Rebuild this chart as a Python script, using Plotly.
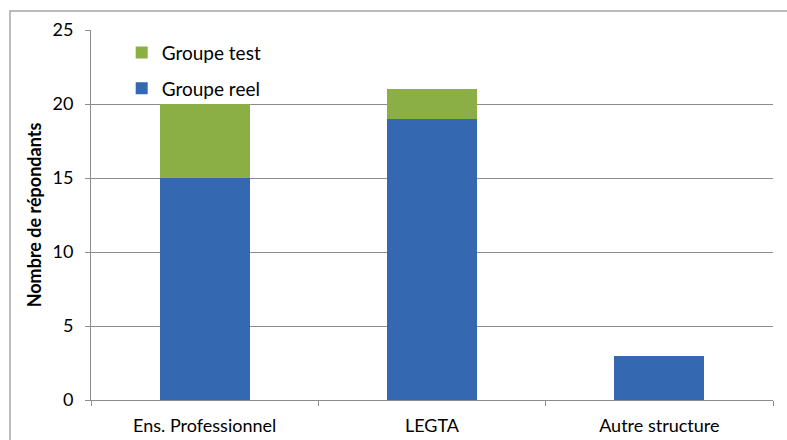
import plotly.graph_objects as go

categories = ["Ens. Professionnel", "LEGTA", "Autre structure"]
groupe_reel = [15, 19, 3]
groupe_test = [5, 2, 0]
y_ticks = [0, 5, 10, 15, 20, 25]

FONT = "Lato, 'Open Sans', sans-serif"
BLUE = "#3468B1"
GREEN = "#8BAF45"
GRID = "#8c8c8c"

fig = go.Figure()
fig.add_trace(go.Bar(
    name="Groupe reel", x=categories, y=groupe_reel,
    legendgroup="reel", legendrank=2,
    marker=dict(color=BLUE, line=dict(width=0)),
))
fig.add_trace(go.Bar(
    name="Groupe test", x=categories, y=groupe_test,
    legendgroup="test", legendrank=1,
    marker=dict(color=GREEN, line=dict(width=0)),
))

# plot area spans pixels 91..773 horizontally and 30..400 vertically
L, R, T, B = 91, 14, 30, 40
W, H = 787, 440
pw, ph = W - L - R, H - T - B

fig.update_layout(
    width=W, height=H,
    barmode="stack",
    bargap=0.604,
    margin=dict(l=L, r=R, t=T, b=B),
    paper_bgcolor="white",
    plot_bgcolor="white",
    font=dict(family=FONT, size=18, color="#000000"),
    showlegend=True,
    legend=dict(
        traceorder="grouped",
        x=0.045, y=0.99, xanchor="left", yanchor="top",
        bgcolor="rgba(0,0,0,0)",
        font=dict(family=FONT, size=19),
        itemsizing="constant",
        itemwidth=30,
        tracegroupgap=8,
    ),
    xaxis=dict(
        automargin=False,
        showgrid=False,
        showline=True, linecolor=GRID, linewidth=1,
        ticks="outside", tickson="boundaries", ticklen=5, tickcolor=GRID,
        ticklabelstandoff=9,
        tickfont=dict(family=FONT, size=18),
    ),
    yaxis=dict(
        automargin=False,
        range=[0, 25],
        tickvals=y_ticks,
        showgrid=True, gridcolor=GRID, gridwidth=1,
        showline=True, linecolor=GRID, linewidth=1,
        ticks="outside", ticklen=5, tickcolor=GRID,
        ticklabelstandoff=8,
        tickfont=dict(family=FONT, size=18),
        zeroline=False,
        title=dict(text="<b>Nombre de répondants</b>", font=dict(family=FONT, size=18), standoff=6),
    ),
    shapes=[dict(
        type="rect", xref="paper", yref="paper",
        x0=(10 - L) / pw, x1=(795 - L) / pw,
        y0=(H - B - 450) / ph, y1=(H - B - 11) / ph,
        line=dict(color="#a6a6a6", width=1.5),
        fillcolor="rgba(0,0,0,0)", layer="below",
    )],
)

fig.write_html("out.html")
